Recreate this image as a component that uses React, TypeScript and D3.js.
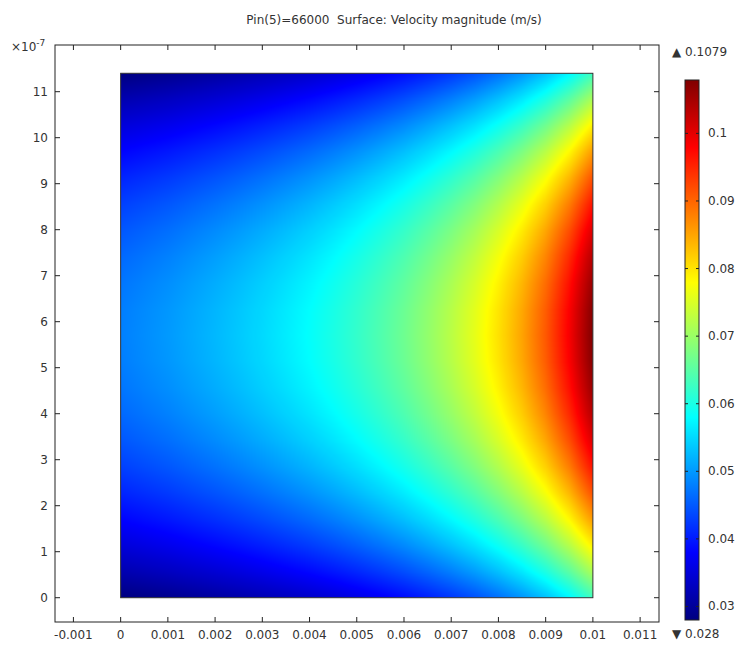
import React, { useMemo } from 'react';
import * as d3 from 'd3';

const W = 746;
const H = 653;

// axis ticks
const xTicks = [-0.001, 0, 0.001, 0.002, 0.003, 0.004, 0.005, 0.006, 0.007, 0.008, 0.009, 0.01, 0.011];
const xTickLabels = ['-0.001', '0', '0.001', '0.002', '0.003', '0.004', '0.005', '0.006', '0.007', '0.008', '0.009', '0.01', '0.011'];
const yTicks = [0, 1, 2, 3, 4, 5, 6, 7, 8, 9, 10, 11]; // x10^-7
const cbTicks = [0.03, 0.04, 0.05, 0.06, 0.07, 0.08, 0.09, 0.1];
const cbTickLabels = ['0.03', '0.04', '0.05', '0.06', '0.07', '0.08', '0.09', '0.1'];
const vMin = 0.028;
const vMax = 0.1079;

// channel geometry
const channelLength = 0.01;
const channelHeight = 11.4; // x10^-7

// velocity along the centre line
const xStations = [0, 0.0005, 0.001, 0.0015, 0.002, 0.0025, 0.003, 0.0035, 0.004, 0.0045, 0.005,
  0.0055, 0.006, 0.0065, 0.007, 0.0075, 0.008, 0.0085, 0.009, 0.0095, 0.01];
const centerSpeed = [0.0480, 0.0490, 0.0500, 0.0512, 0.0524, 0.0537, 0.0551, 0.0566, 0.0582, 0.0600, 0.0620,
  0.0642, 0.0666, 0.0694, 0.0725, 0.0760, 0.0802, 0.0851, 0.0910, 0.0984, 0.1079];

// cross-channel profile (fraction of centre speed)
const etaStations = [0, 0.05, 0.1, 0.15, 0.2, 0.25, 0.3, 0.35, 0.4, 0.45, 0.5,
  0.55, 0.6, 0.65, 0.7, 0.75, 0.8, 0.85, 0.9, 0.95, 1];
const profileFactor = [0.583, 0.662, 0.733, 0.796, 0.850, 0.896, 0.933, 0.962, 0.983, 0.996, 1.0,
  0.996, 0.983, 0.962, 0.933, 0.896, 0.850, 0.796, 0.733, 0.662, 0.583];

// jet colour map
const jetOffsets = [0, 0.125, 0.375, 0.625, 0.875, 1];
const jetColors = ['#000080', '#0000ff', '#00ffff', '#ffff00', '#ff0000', '#800000'];

const textColor = '#333';
const font = '"DejaVu Sans", Verdana, sans-serif';

export default function App() {
  const x = d3.scaleLinear().domain([-0.00139, 0.0114]).range([55, 659]);
  const y = d3.scaleLinear().domain([-0.528, 12.015]).range([622, 45]);
  const cb = d3.scaleLinear().domain([vMin, vMax]).range([620, 80]);

  const rx0 = x(0), rx1 = x(channelLength);
  const ry0 = y(channelHeight), ry1 = y(0);

  const surface = useMemo(() => {
    const w = Math.round(rx1 - rx0);
    const h = Math.round(ry1 - ry0);
    const canvas = document.createElement('canvas');
    canvas.width = w;
    canvas.height = h;
    const ctx = canvas.getContext('2d');
    if (!ctx) return '';
    const jet = d3.scaleLinear<string>().domain(jetOffsets).range(jetColors).interpolate(d3.interpolateRgb).clamp(true);
    const N = 1024;
    const lut = d3.range(N).map(i => d3.rgb(jet(i / (N - 1))));
    const speed = d3.scaleLinear().domain(xStations).range(centerSpeed).clamp(true);
    const prof = d3.scaleLinear().domain(etaStations).range(profileFactor).clamp(true);
    const img = ctx.createImageData(w, h);
    const cs = d3.range(w).map(px => speed(channelLength * (px + 0.5) / w));
    for (let py = 0; py < h; py++) {
      const eta = 1 - (py + 0.5) / h;
      const f = prof(eta);
      for (let px = 0; px < w; px++) {
        const v = cs[px] * f;
        let t = (v - vMin) / (vMax - vMin);
        t = Math.max(0, Math.min(1, t));
        const c = lut[Math.round(t * (N - 1))];
        const k = (py * w + px) * 4;
        img.data[k] = c.r;
        img.data[k + 1] = c.g;
        img.data[k + 2] = c.b;
        img.data[k + 3] = 255;
      }
    }
    ctx.putImageData(img, 0, 0);
    return canvas.toDataURL();
  }, []);

  const tick = 5;
  const [fx0, fx1] = x.range();
  const [fy1, fy0] = y.range();

  return (
    <svg width={W} height={H} style={{ position: 'absolute', left: 0, top: 0, background: '#fff' }}
      fontFamily={font} fontSize={12} fill={textColor}>
      <defs>
        <linearGradient id="jet" x1="0" y1="1" x2="0" y2="0">
          {jetOffsets.map((o, i) => <stop key={i} offset={o} stopColor={jetColors[i]} />)}
        </linearGradient>
      </defs>

      <text x={394} y={24} textAnchor="middle" style={{ whiteSpace: 'pre' }}>Pin(5)=66000  Surface: Velocity magnitude (m/s)</text>

      {/* surface */}
      <image href={surface} x={rx0} y={ry0} width={rx1 - rx0} height={ry1 - ry0} preserveAspectRatio="none" />
      <rect x={rx0} y={ry0} width={rx1 - rx0} height={ry1 - ry0} fill="none" stroke="#333" strokeWidth={1} />

      {/* frame */}
      <rect x={fx0} y={fy0} width={fx1 - fx0} height={fy1 - fy0} fill="none" stroke="#222" strokeWidth={1} />
      {xTicks.map((t, i) => (
        <g key={'x' + i}>
          <line x1={x(t)} x2={x(t)} y1={fy1} y2={fy1 - tick} stroke="#222" />
          <line x1={x(t)} x2={x(t)} y1={fy0} y2={fy0 + tick} stroke="#222" />
          <text x={x(t)} y={fy1 + 17} textAnchor="middle">{xTickLabels[i]}</text>
        </g>
      ))}
      {yTicks.map((t, i) => (
        <g key={'y' + i}>
          <line x1={fx0} x2={fx0 + tick} y1={y(t)} y2={y(t)} stroke="#222" />
          <line x1={fx1} x2={fx1 - tick} y1={y(t)} y2={y(t)} stroke="#222" />
          <text x={48} y={y(t) + 4} textAnchor="end">{t}</text>
        </g>
      ))}
      <text x={11} y={51}>×10<tspan dy={-5} fontSize={9}>-7</tspan></text>

      {/* colour bar */}
      <rect x={685} y={cb(vMax)} width={14} height={cb(vMin) - cb(vMax)} fill="url(#jet)" stroke="#222" strokeWidth={1} />
      {cbTicks.map((t, i) => (
        <g key={'c' + i}>
          <line x1={699} x2={696} y1={cb(t)} y2={cb(t)} stroke="#222" />
          <line x1={685} x2={688} y1={cb(t)} y2={cb(t)} stroke="#222" />
          <text x={708} y={cb(t) + 4}>{cbTickLabels[i]}</text>
        </g>
      ))}
      <text x={672} y={56}>▲ 0.1079</text>
      <text x={672} y={638}>▼ 0.028</text>
    </svg>
  );
}
